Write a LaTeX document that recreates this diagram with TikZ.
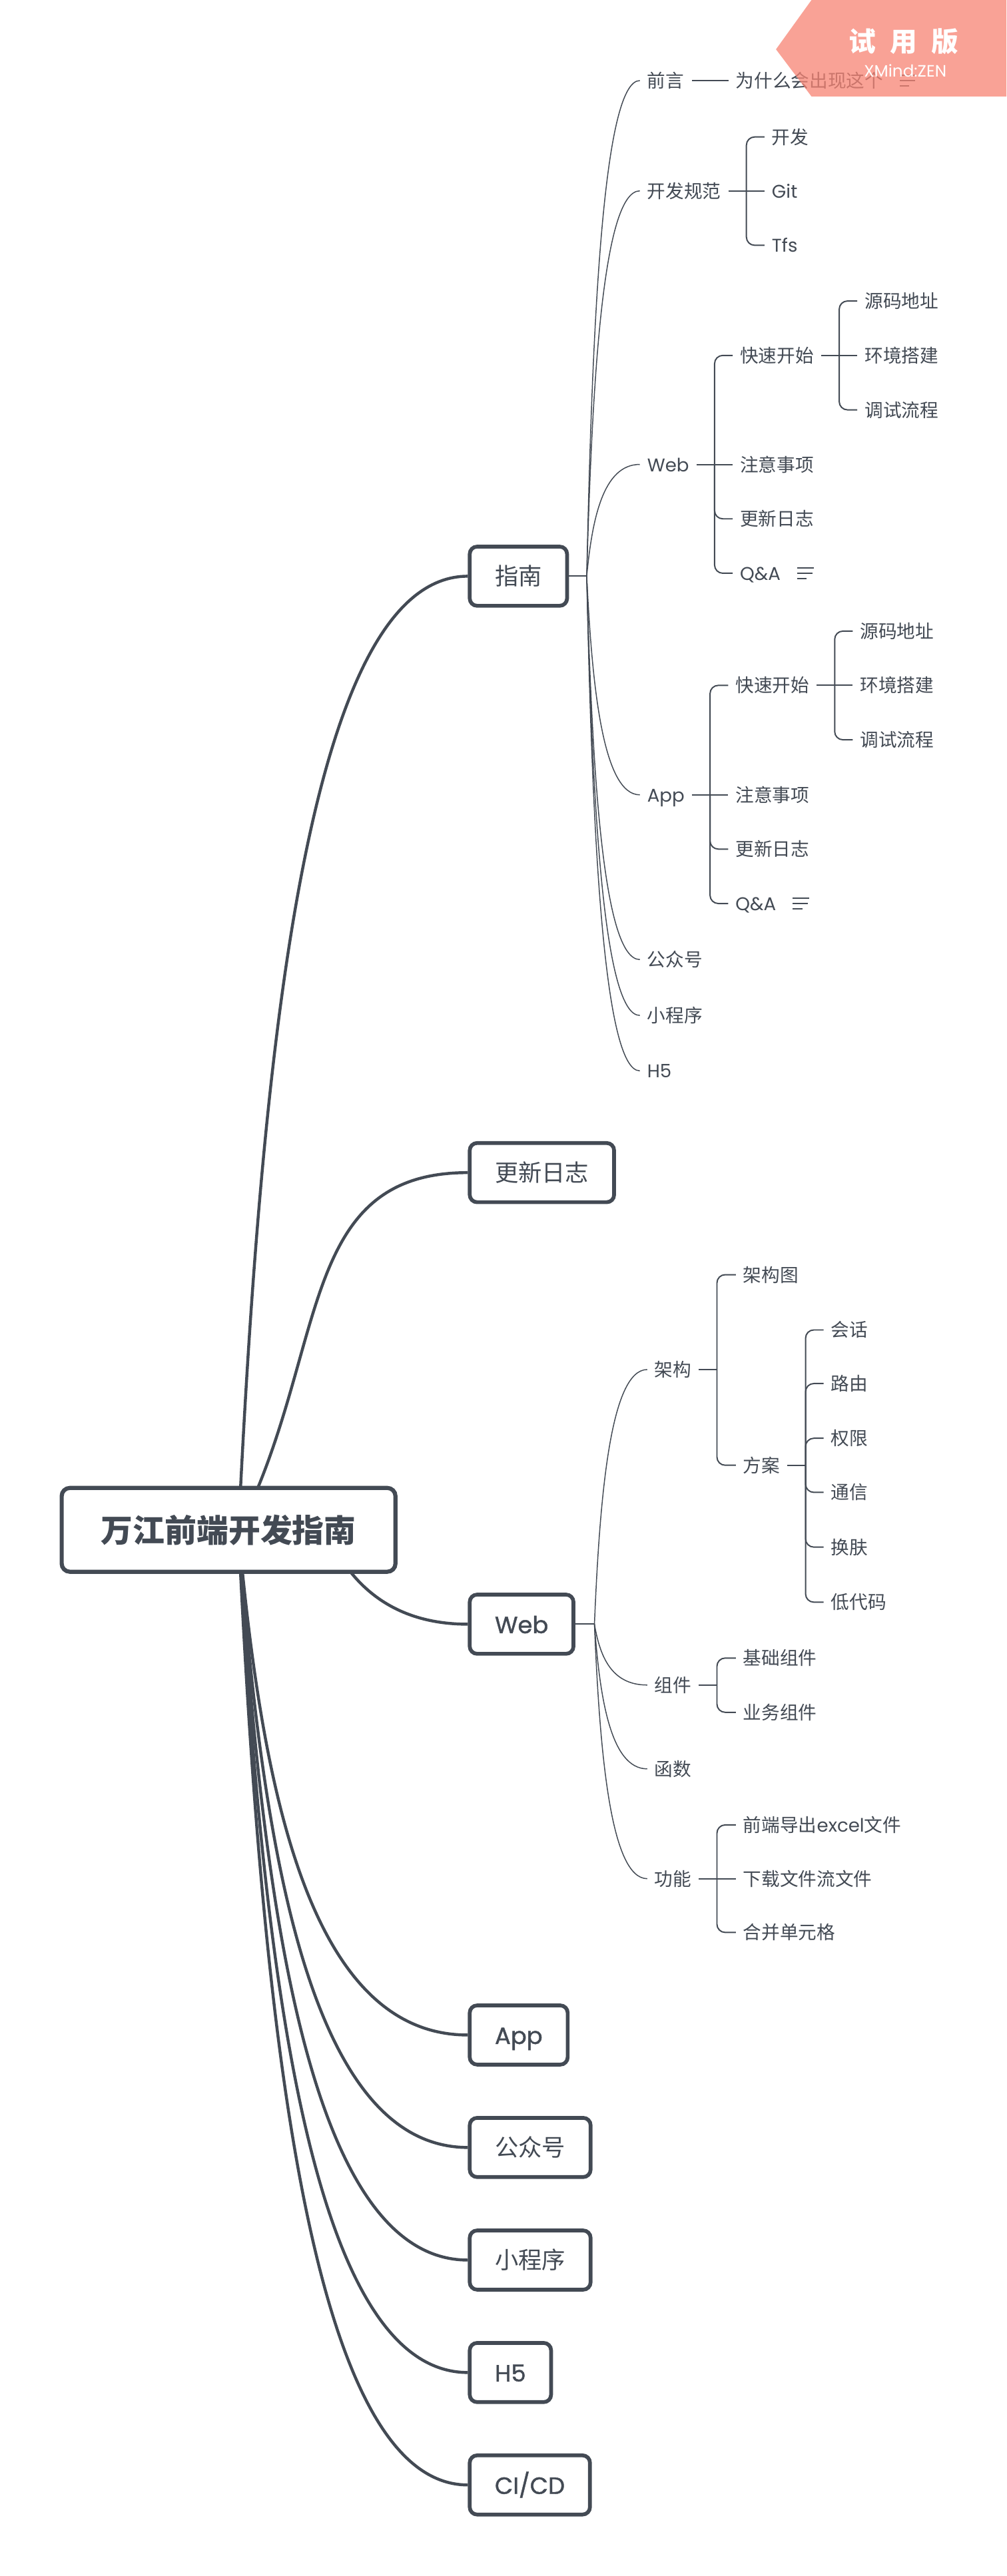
\documentclass[tikz,border=0pt]{standalone}
\usepackage{fontspec}
\setmainfont{Noto Sans CJK SC}
\newfontfamily\lat{Poppins}
\newfontfamily\latb{Poppins}[FakeBold=1.2]
\usetikzlibrary{calc}
\pgfdeclarelayer{bg}
\pgfsetlayers{bg,main}
\definecolor{dk}{RGB}{67,74,84}
\definecolor{wm}{RGB}{248,132,115}
\newcommand\mycurve[3]{\draw[#1] let \p1=(#2), \p2=(#3) in (\p1) .. controls ({\x1+0.1*(\x2-\x1)},{\y1+0.5*(\y2-\y1)}) and ({\x1+0.3*(\x2-\x1)},{\y2}) .. (\p2);}
\newcommand\noteicon[1]{%
  \draw[ic] ($(#1.east)+(10.2,-3.3)$) -- ++(10.1,0);
  \draw[ic] ($(#1.east)+(10.2,0)$) -- ++(9.2,0);
  \draw[ic] ($(#1.east)+(10.2,3.2)$) -- ++(5.7,0);}
\tikzset{
 thk/.style={draw=dk, line width=1.8pt},
 ln/.style={draw=dk, line width=0.6pt},
 br/.style={draw=dk, line width=0.8pt, rounded corners=5pt},
 ic/.style={draw=dk, line width=0.85pt},
 t2/.style={anchor=west, inner sep=0pt, outer sep=0pt, text=dk, font=\fontsize{11.2}{13}\selectfont, text height=9.85pt, text depth=1.35pt},
 l1box/.style={anchor=west, draw=dk, line width=2.3pt, rounded corners=4.5pt, fill=white, minimum height=36pt, inner xsep=15.3pt, inner ysep=0pt, text=dk, font=\fontsize{14.3}{16}\selectfont, text height=12.6pt, text depth=1.7pt},
 rootbox/.style={draw=dk, line width=2.5pt, rounded corners=5pt, fill=white, minimum width=203pt, minimum height=51pt, inner sep=0pt, text=dk, font=\fontsize{19.4}{22}\selectfont\bfseries, text height=17.1pt, text depth=2.3pt}
}
\begin{document}
\begin{tikzpicture}[x=1pt,y=-1pt]
\useasboundingbox (0,0) rectangle (612,1567);
\begin{pgfonlayer}{bg}
\fill[white] (0,0) rectangle (612,1567);
\end{pgfonlayer}

% ---------- root and main topics ----------
\node[rootbox] (root) at (139,930.6) {万江前端开发指南};
\node[l1box] (zn) at (284.5,350.5) {指南};
\node[l1box] (gx) at (284.5,713.3) {更新日志};
\node[l1box] (web) at (284.5,988) {\latb Web};
\node[l1box] (app) at (284.5,1237.9) {\latb App};
\node[l1box] (gzh) at (284.5,1306.3) {公众号};
\node[l1box] (xcx) at (284.5,1374.8) {小程序};
\node[l1box] (hw) at (284.5,1443.2) {\latb H5};
\node[l1box] (cicd) at (284.5,1511.6) {\latb CI/CD};

\coordinate (rs) at (145,931);
\coordinate (rsw) at (200,935);
\begin{pgfonlayer}{bg}
\mycurve{thk}{rs}{zn.west}
\draw[thk] (rs) .. controls (200,822) and (180,713.3) .. (gx.west);
\draw[thk] (rsw) .. controls (212,960) and (235,988) .. (web.west);
\mycurve{thk}{rs}{app.west}
\mycurve{thk}{rs}{gzh.west}
\mycurve{thk}{rs}{xcx.west}
\mycurve{thk}{rs}{hw.west}
\mycurve{thk}{rs}{cicd.west}
\end{pgfonlayer}

% ---------- 指南 subtree ----------
\coordinate (zs) at ($(zn.east)+(10.8,0)$);
\coordinate (zt) at ($(zs)+(36.8,0)$);
\node[t2] (qy) at (zt |- 0,49) {前言};
\node[t2] (kf) at (zt |- 0,116.1) {开发规范};
\node[t2] (zw) at (zt |- 0,282.5) {\lat Web};
\node[t2] (za) at (zt |- 0,483.5) {\lat App};
\node[t2] (zg) at (zt |- 0,583.7) {公众号};
\node[t2] (zx) at (zt |- 0,617.7) {小程序};
\node[t2] (zh) at (zt |- 0,651.4) {\lat H5};
\draw[br] (zn.east) -- (zs);
\foreach \nd in {qy,kf,zw,za,zg,zx,zh} {\mycurve{ln}{zs}{[xshift=-4.5pt]\nd.west}}

% 前言
\node[t2] (wt) at ($(qy.east)+(31.5,0)$) {为什么会出现这个};
\draw[br] ([xshift=5pt]qy.east) -- ([xshift=-4.5pt]wt.west);
\noteicon{wt}

% 开发规范
\coordinate (kfb) at ($(kf.east)+(15.5,0)$);
\coordinate (kfx) at ($(kf.east)+(31,0)$);
\node[t2] (kf1) at (kfx |- 0,83.3) {开发};
\node[t2] (kf2) at (kfx |- 0,116.1) {\lat Git};
\node[t2] (kf3) at (kfx |- 0,149.2) {\lat Tfs};
\draw[br] ([xshift=4.5pt]kf.east) -- (kfb);
\draw[br] (kfb) |- ([xshift=-4.5pt]kf1.west);
\draw[br] (kfb) -- ([xshift=-4.5pt]kf2.west);
\draw[br] (kfb) |- ([xshift=-4.5pt]kf3.west);

% Web (guide)
\coordinate (zwb) at ($(zw.east)+(15.5,0)$);
\coordinate (zwx) at ($(zw.east)+(31,0)$);
\node[t2] (zw1) at (zwx |- 0,216.2) {快速开始};
\node[t2] (zw2) at (zwx |- 0,282.5) {注意事项};
\node[t2] (zw3) at (zwx |- 0,315.6) {更新日志};
\node[t2] (zw4) at (zwx |- 0,348.7) {\lat Q\&A};
\draw[br] ([xshift=4.5pt]zw.east) -- (zwb);
\draw[br] (zwb) |- ([xshift=-4.5pt]zw1.west);
\draw[br] (zwb) -- ([xshift=-4.5pt]zw2.west);
\draw[br] (zwb) |- ([xshift=-4.5pt]zw3.west);
\draw[br] (zwb) |- ([xshift=-4.5pt]zw4.west);
\noteicon{zw4}
\coordinate (zw1b) at ($(zw1.east)+(15.5,0)$);
\coordinate (zw1x) at ($(zw1.east)+(31,0)$);
\node[t2] (zw11) at (zw1x |- 0,183.1) {源码地址};
\node[t2] (zw12) at (zw1x |- 0,216.2) {环境搭建};
\node[t2] (zw13) at (zw1x |- 0,249.3) {调试流程};
\draw[br] ([xshift=4.5pt]zw1.east) -- (zw1b);
\draw[br] (zw1b) |- ([xshift=-4.5pt]zw11.west);
\draw[br] (zw1b) -- ([xshift=-4.5pt]zw12.west);
\draw[br] (zw1b) |- ([xshift=-4.5pt]zw13.west);

% App (guide)
\coordinate (zab) at ($(za.east)+(15.5,0)$);
\coordinate (zax) at ($(za.east)+(31,0)$);
\node[t2] (za1) at (zax |- 0,416.9) {快速开始};
\node[t2] (za2) at (zax |- 0,483.5) {注意事项};
\node[t2] (za3) at (zax |- 0,516.5) {更新日志};
\node[t2] (za4) at (zax |- 0,549.6) {\lat Q\&A};
\draw[br] ([xshift=4.5pt]za.east) -- (zab);
\draw[br] (zab) |- ([xshift=-4.5pt]za1.west);
\draw[br] (zab) -- ([xshift=-4.5pt]za2.west);
\draw[br] (zab) |- ([xshift=-4.5pt]za3.west);
\draw[br] (zab) |- ([xshift=-4.5pt]za4.west);
\noteicon{za4}
\coordinate (za1b) at ($(za1.east)+(15.5,0)$);
\coordinate (za1x) at ($(za1.east)+(31,0)$);
\node[t2] (za11) at (za1x |- 0,383.9) {源码地址};
\node[t2] (za12) at (za1x |- 0,416.9) {环境搭建};
\node[t2] (za13) at (za1x |- 0,450) {调试流程};
\draw[br] ([xshift=4.5pt]za1.east) -- (za1b);
\draw[br] (za1b) |- ([xshift=-4.5pt]za11.west);
\draw[br] (za1b) -- ([xshift=-4.5pt]za12.west);
\draw[br] (za1b) |- ([xshift=-4.5pt]za13.west);

% ---------- Web subtree ----------
\coordinate (ws) at ($(web.east)+(11.6,0)$);
\coordinate (wtx) at ($(ws)+(36.6,0)$);
\node[t2] (jg) at (wtx |- 0,833.1) {架构};
\node[t2] (zj) at (wtx |- 0,1025) {组件};
\node[t2] (hs) at (wtx |- 0,1076) {函数};
\node[t2] (gn) at (wtx |- 0,1142.8) {功能};
\draw[br] (web.east) -- (ws);
\foreach \nd in {jg,zj,hs,gn} {\mycurve{ln}{ws}{[xshift=-4.5pt]\nd.west}}

% 架构
\coordinate (jgb) at ($(jg.east)+(15.5,0)$);
\coordinate (jgx) at ($(jg.east)+(31.5,0)$);
\node[t2] (jg1) at (jgx |- 0,775.4) {架构图};
\node[t2] (jg2) at (jgx |- 0,891.3) {方案};
\draw[br] ([xshift=4.5pt]jg.east) -- (jgb);
\draw[br] (jgb) |- ([xshift=-4.5pt]jg1.west);
\draw[br] (jgb) |- ([xshift=-4.5pt]jg2.west);

% 方案
\coordinate (fab) at ($(jg2.east)+(15.5,0)$);
\coordinate (fax) at ($(jg2.east)+(31,0)$);
\node[t2] (fa1) at (fax |- 0,809) {会话};
\node[t2] (fa2) at (fax |- 0,841.6) {路由};
\node[t2] (fa3) at (fax |- 0,874.9) {权限};
\node[t2] (fa4) at (fax |- 0,907.8) {通信};
\node[t2] (fa5) at (fax |- 0,941.1) {换肤};
\node[t2] (fa6) at (fax |- 0,974.6) {低代码};
\draw[br] ([xshift=4.5pt]jg2.east) -- (fab);
\foreach \nd in {fa1,fa2,fa3,fa4,fa5,fa6} {\draw[br] (fab) |- ([xshift=-4.5pt]\nd.west);}

% 组件
\coordinate (zjb) at ($(zj.east)+(15.5,0)$);
\coordinate (zjx) at ($(zj.east)+(31.5,0)$);
\node[t2] (zj1) at (zjx |- 0,1008.6) {基础组件};
\node[t2] (zj2) at (zjx |- 0,1041.6) {业务组件};
\draw[br] ([xshift=4.5pt]zj.east) -- (zjb);
\draw[br] (zjb) |- ([xshift=-4.5pt]zj1.west);
\draw[br] (zjb) |- ([xshift=-4.5pt]zj2.west);

% 功能
\coordinate (gnb) at ($(gn.east)+(15.5,0)$);
\coordinate (gnx) at ($(gn.east)+(31.5,0)$);
\node[t2] (gn1) at (gnx |- 0,1110.1) {前端导出{\lat excel}文件};
\node[t2] (gn2) at (gnx |- 0,1142.8) {下载文件流文件};
\node[t2] (gn3) at (gnx |- 0,1175.5) {合并单元格};
\draw[br] ([xshift=4.5pt]gn.east) -- (gnb);
\draw[br] (gnb) |- ([xshift=-4.5pt]gn1.west);
\draw[br] (gnb) -- ([xshift=-4.5pt]gn2.west);
\draw[br] (gnb) |- ([xshift=-4.5pt]gn3.west);

% ---------- watermark ----------
\fill[wm, opacity=0.75] (471.9,30) -- (493.5,0) -- (612,0) -- (612,58.7) -- (493.5,58.7) -- cycle;
\node[text=white, inner sep=0pt, font=\fontsize{16.5}{17}\selectfont\bfseries, text height=14.5pt, text depth=2pt] (wmt) at (549.5,25.3) {试\hspace{8.5pt}用\hspace{8.5pt}版};
\node[text=white, inner sep=0pt, font=\fontsize{10}{10}\selectfont\lat] (wmz) at (550.5,42.9) {XMind:ZEN};
\end{tikzpicture}
\end{document}
